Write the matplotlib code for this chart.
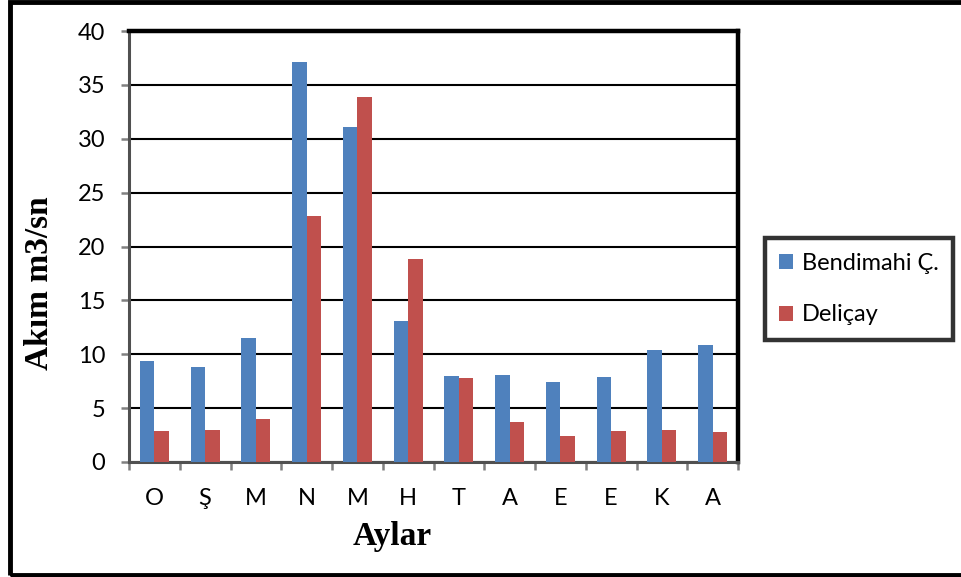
import numpy as np
import matplotlib.pyplot as plt
from matplotlib.patches import Rectangle

# monthly mean flow (m3/sn), water year Oct -> Sep
aylar = ['O', 'Ş', 'M', 'N', 'M', 'H', 'T', 'A', 'E', 'E', 'K', 'A']
bendimahi = [9.4, 8.8, 11.5, 37.1, 31.1, 13.1, 8.0, 8.1, 7.4, 7.9, 10.4, 10.9]
delicay = [2.9, 3.0, 4.0, 22.8, 33.9, 18.8, 7.8, 3.7, 2.4, 2.9, 3.0, 2.8]

tick_font = 'Lato'
label_font = 'Liberation Serif'
fs = 17

fig = plt.figure(figsize=(9.61, 5.77), dpi=100)
fig.patch.set_facecolor('white')

# outer frame around the whole chart
fig.patches.append(Rectangle((10/961, 2/577), 1.2, 573/577, transform=fig.transFigure,
                             fill=False, edgecolor='black', linewidth=3.5, zorder=0))

ax = fig.add_axes([129/961, 115/577, 609/961, 431/577])

x = np.arange(len(aylar))
w = 0.286
ax.bar(x - w/2, bendimahi, w, color='#4F81BD', label='Bendimahi Ç.', zorder=3)
ax.bar(x + w/2, delicay, w, color='#C0504D', label='Deliçay', zorder=3)

ax.set_xlim(-0.5, len(aylar) - 0.5)
ax.set_ylim(0, 40)
ax.set_yticks(np.arange(0, 41, 5))
ax.yaxis.grid(True, color='black', linewidth=1.5, zorder=1)
ax.set_axisbelow(True)

ax.set_xticks(x)
ax.set_xticklabels(aylar, fontfamily=tick_font, fontsize=fs)
ax.set_xticks(np.arange(-0.5, len(aylar)), minor=True)
ax.tick_params(axis='x', which='major', length=0, pad=19)
ax.tick_params(axis='x', which='minor', length=6, width=1.8, color='#808080', direction='out')
ax.tick_params(axis='y', length=6, width=1.8, color='#808080', pad=11)
for lbl in ax.get_yticklabels():
    lbl.set_fontfamily(tick_font)
    lbl.set_fontsize(fs)

for side in ['top', 'right']:
    ax.spines[side].set_linewidth(3.2)
    ax.spines[side].set_color('black')
for side in ['left', 'bottom']:
    ax.spines[side].set_linewidth(2.2)
    ax.spines[side].set_color('#505050')

fig.text(40/961, 1 - 283/577, 'Akım m3/sn', rotation=90, ha='center', va='center',
         fontfamily=label_font, fontweight='bold', fontsize=24)
fig.text(392/961, 1 - 537/577, 'Aylar', ha='center', va='center',
         fontfamily=label_font, fontweight='bold', fontsize=24)

leg = fig.legend(loc='center left', bbox_to_anchor=(765/961, 1 - 289/577),
                 prop={'family': tick_font, 'size': fs}, frameon=True, fancybox=False,
                 handlelength=0.6, handleheight=0.6, handletextpad=0.35,
                 labelspacing=1.3, borderpad=0.6, borderaxespad=0)
leg.get_frame().set_edgecolor('black')
leg.get_frame().set_linewidth(3.2)

fig.savefig('out.png', dpi=100)
